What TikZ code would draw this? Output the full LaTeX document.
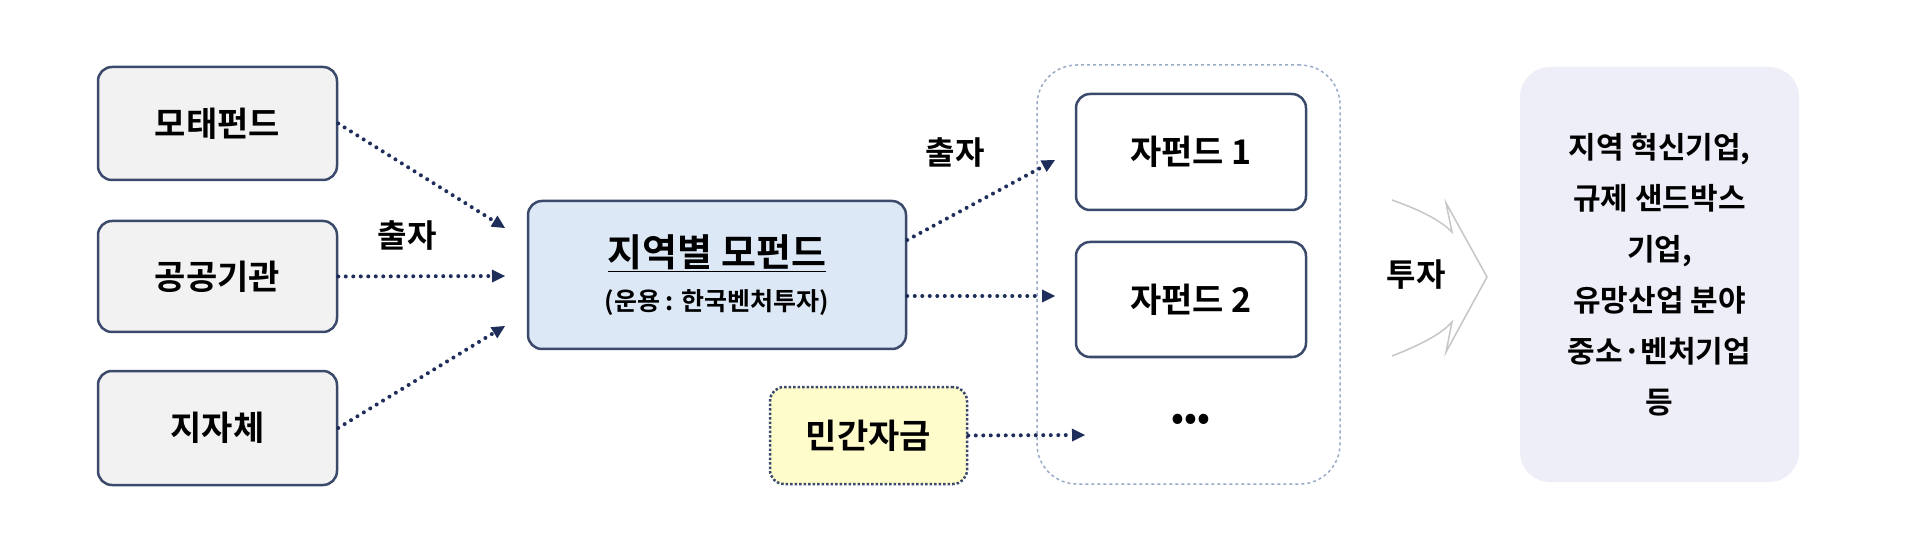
\documentclass[tikz,border=0pt]{standalone}
\usepackage{fontspec}
\newfontfamily\kr{Noto Sans CJK KR}[BoldFont={* Bold}]
\usetikzlibrary{arrows.meta}
\definecolor{nv}{HTML}{1F2D5A}
\definecolor{bd}{HTML}{3B4A6B}
\definecolor{mf}{HTML}{DCE8F5}
\definecolor{rf}{HTML}{EDEEF7}
\definecolor{gd}{HTML}{9AABC8}
\begin{document}
\begin{tikzpicture}[x=1pt,y=-1pt,
 box/.style={draw=bd,line width=2.5pt,rounded corners=14pt,fill=gray!10,font=\kr\bfseries\fontsize{34}{40}\selectfont,inner sep=0pt},
 arr/.style={draw=nv,line width=4pt,line cap=round,dash pattern=on 0pt off 7.5pt,-{Triangle[width=13pt,length=13pt,line width=0pt,fill=nv]}},
 lab/.style={font=\kr\bfseries\fontsize{32}{38}\selectfont}]
\useasboundingbox[fill=white] (0,0) rectangle (1920,553);
\node[box,minimum width=239pt,minimum height=113pt] (a) at (217.5,123.5) {모태펀드};
\node[box,minimum width=239pt,minimum height=111pt] (b) at (217.5,276.5) {공공기관};
\node[box,minimum width=239pt,minimum height=114pt] (c) at (217.5,428) {지자체};
\node[box,fill=mf,minimum width=378pt,minimum height=148pt,align=center] (m) at (717,275) {{\fontsize{38}{44}\selectfont\underline{지역별 모펀드}}\\[4pt]{\fontsize{25}{30}\selectfont (운용 : 한국벤처투자)}};
\node[box,dotted,fill=yellow!20,minimum width=197pt,minimum height=97pt] (p) at (868.5,435.5) {민간자금};
\node[draw=gd,dashed,line width=1.5pt,rounded corners=40pt,minimum width=303pt,minimum height=419pt] (g) at (1188.5,274.5) {};
\node[box,fill=white,minimum width=230pt,minimum height=116pt] (s1) at (1191,152) {자펀드 1};
\node[box,fill=white,minimum width=230pt,minimum height=115pt] (s2) at (1191,299.5) {자펀드 2};
\node[font=\kr\bfseries\fontsize{34}{40}\selectfont] (s3) at (1191,422) {\textbullet\textbullet\textbullet};
\node[lab] (l1) at (407,236) {출자};
\node[lab] (l2) at (955,153) {출자};
\node[lab] (l3) at (1416,275) {투자};
\node[fill=rf,rounded corners=30pt,minimum width=279pt,minimum height=415pt,align=center,font=\kr\bfseries\fontsize{30}{51}\selectfont] (r) at (1659.5,274.5) {지역 혁신기업,\\규제 샌드박스\\기업,\\유망산업 분야\\중소·벤처기업\\등};
\coordinate (t1) at (505,228);\coordinate (t2) at (505,276);\coordinate (t3) at (505,326);
\coordinate (u1) at (1055,160);\coordinate (u2) at (1055,296);\coordinate (u3) at (1085,435);
\draw[arr] (a.east) -- (t1);
\draw[arr] (b.east) -- (t2);
\draw[arr] (c.east) -- (t3);
\draw[arr] (m.east) ++(0,-35) -- (u1);
\draw[arr] (m.east) ++(0,21) -- (u2);
\draw[arr] (p.east) -- (u3);
\coordinate (ch) at (1487,277);
\draw[gray!45,line width=1.5pt] (1392,200) .. controls (1420,210) and (1440,220) .. (1452,232) -- (1446,203) -- (ch) -- (1446,352) -- (1452,322) .. controls (1440,335) and (1420,345) .. (1392,356);
\end{tikzpicture}
\end{document}
